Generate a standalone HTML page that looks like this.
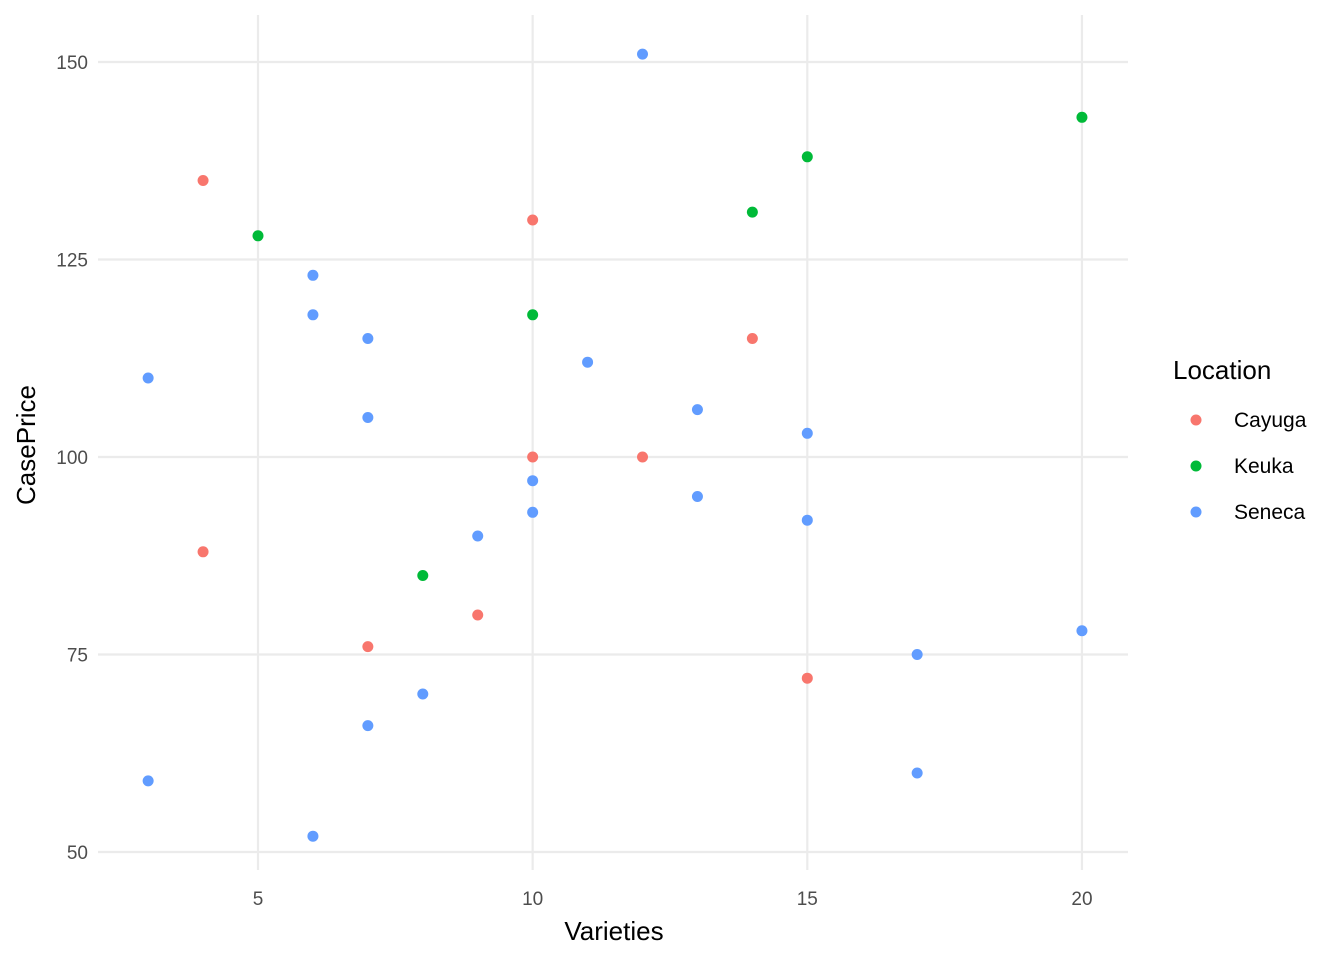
<!DOCTYPE html>
<html><head><meta charset="utf-8"><style>
html,body{margin:0;padding:0;background:#fff;}
svg text{font-family:"Liberation Sans",Arial,sans-serif;}
</style></head><body>
<svg id="chart" width="1344" height="960" xmlns="http://www.w3.org/2000/svg">
<g id="grid"></g>
<g id="xticks"></g>
<g id="yticks"></g>
<g id="points"></g>
<text x="614" y="940" font-size="26" text-anchor="middle" fill="#000">Varieties</text>
<text transform="translate(35,445) rotate(-90)" font-size="26" text-anchor="middle" fill="#000">CasePrice</text>
<g id="legend">
<text x="1173" y="379" font-size="26" fill="#000">Location</text>
</g>
</svg>
<script>
const xTicks=[5,10,15,20];
const yTicks=[50,75,100,125,150];
const seriesNames=["Cayuga","Keuka","Seneca"];
const seriesColors=["#F8766D","#00BA38","#619CFF"];
const cayugaX=[4,10,14,10,12,4,9,7,15];
const cayugaY=[135,130,115,100,100,88,80,76,72];
const keukaX=[5,15,14,20,10,8];
const keukaY=[128,138,131,143,118,85];
const senecaX=[12,6,6,7,3,11,7,13,15,10,10,13,15,9,20,17,8,7,3,17,6];
const senecaY=[151,123,118,115,110,112,105,106,103,97,93,95,92,90,78,75,70,66,59,60,52];
const seriesX=[cayugaX,keukaX,senecaX];
const seriesY=[cayugaY,keukaY,senecaY];

const NS="http://www.w3.org/2000/svg";
const xs=v=>258+(v-5)*54.93;
const ys=v=>457-(v-100)*7.9;
const L=98,R=1128,T=15,B=870;
function mk(tag,attrs,parent){const e=document.createElementNS(NS,tag);for(const k in attrs)e.setAttribute(k,attrs[k]);parent.appendChild(e);return e;}
const grid=document.getElementById('grid'),gx=document.getElementById('xticks'),gy=document.getElementById('yticks');
xTicks.forEach(t=>{
  const l=mk('line',{x1:xs(t),x2:xs(t),y1:T,y2:B,stroke:'#EBEBEB','stroke-width':2.2},grid);
  
  
  const tx=mk('text',{x:xs(t),y:905,'font-size':19,'text-anchor':'middle',fill:'#4D4D4D'},gx);
  tx.textContent=t;
  
  
});
yTicks.forEach(t=>{
  const l=mk('line',{x1:L,x2:R,y1:ys(t),y2:ys(t),stroke:'#EBEBEB','stroke-width':2.2},grid);
  
  
  const tx=mk('text',{x:88,y:ys(t)+7,'font-size':19,'text-anchor':'end',fill:'#4D4D4D'},gy);
  tx.textContent=t;
  
  
});
const pts=document.getElementById('points'),leg=document.getElementById('legend');
seriesNames.forEach((n,i)=>{
  seriesX[i].forEach((x,j)=>{
    const c=mk('circle',{cx:xs(x),cy:ys(seriesY[i][j]),r:5.5,fill:seriesColors[i]},pts);
    
    
  });
  const y=421+i*46;
  const c=mk('circle',{cx:1196,cy:y-1,r:5.5,fill:seriesColors[i]},leg);
  
  
  const t=mk('text',{x:1234,y:y+6,'font-size':21,fill:'#000'},leg);
  t.textContent=n;
  
  
});
</script>
</body></html>
